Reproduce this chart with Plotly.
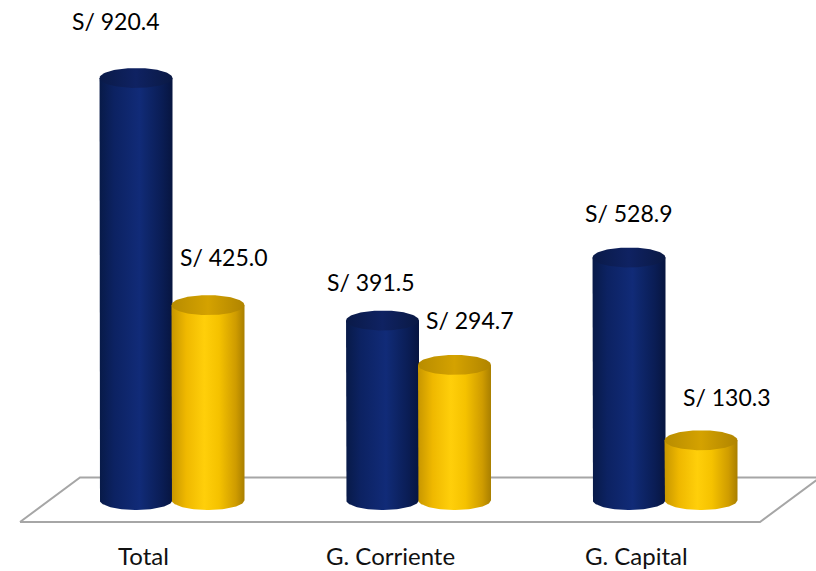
import numpy as np
import plotly.graph_objects as go

# ---- data ----
categories = ["Total", "G. Corriente", "G. Capital"]
series_a = [920.4, 391.5, 528.9]   # blue
series_b = [425.0, 294.7, 130.3]   # yellow
value_labels_a = ["S/ 920.4", "S/ 391.5", "S/ 528.9"]
value_labels_b = ["S/ 425.0", "S/ 294.7", "S/ 130.3"]

# ---- geometry / style ----
W, H = 816, 571
XPX = 246.5           # px per category unit
YPX = 0.4585          # px per value unit
X0PX, Y0PX = 172, 500 # pixel of (0,0)
xr = [(0 - X0PX) / XPX, (W - X0PX) / XPX]
yr = [(Y0PX - H) / YPX, (Y0PX - 0) / YPX]

RX = 0.148            # cylinder half width (x units)
RY = 10 / YPX         # ellipse half height (value units)
OFF = 0.146           # offset of each series from category center

blue_body = [[0, "#081a48"], [0.2, "#0c2262"], [0.55, "#112b78"], [0.62, "#0f286f"], [0.85, "#0a1d55"], [1, "#071540"]]
blue_cap = [[0, "#0a1a48"], [0.5, "#0f2262"], [1, "#0a1944"]]
yel_body = [[0, "#c79600"], [0.2, "#efb800"], [0.45, "#ffcf0a"], [0.65, "#f5c200"], [0.88, "#cf9c00"], [1, "#a97f00"]]
yel_cap = [[0, "#b88c00"], [0.5, "#d4a200"], [1, "#b08400"]]

# label offsets (px) relative to top of cylinder
lab_off_a = [(-20, 57), (-12, 39), (0, 45)]
lab_off_b = [(16, 48), (16, 45), (26, 43)]

fig = go.Figure()

def px2x(p):
    return (p - X0PX) / XPX
def py2y(p):
    return (Y0PX - p) / YPX

# floor parallelogram
floor_x = [px2x(20), px2x(760), px2x(820), px2x(80), px2x(20)]
floor_y = [py2y(522), py2y(522), py2y(477.5), py2y(477.5), py2y(522)]
fig.add_trace(go.Scatter(x=floor_x, y=floor_y, mode="lines",
                         line=dict(color="#a6a6a6", width=2),
                         fill="toself", fillcolor="white", hoverinfo="skip"))

t_low = np.linspace(np.pi, 2 * np.pi, 60)
t_full = np.linspace(0, 2 * np.pi, 120)

def cylinder(cx, v, body_cs, cap_cs):
    bx = [cx - RX, cx - RX] + list(cx + RX * np.cos(t_low)) + [cx + RX, cx - RX]
    by = [v, 0] + list(RY * np.sin(t_low)) + [v, v]
    fig.add_trace(go.Scatter(x=bx, y=by, mode="lines", line=dict(width=0),
                             fill="toself",
                             fillgradient=dict(type="horizontal", colorscale=body_cs),
                             hoverinfo="skip"))
    cxs = cx + RX * np.cos(t_full)
    cys = v + RY * np.sin(t_full)
    fig.add_trace(go.Scatter(x=cxs, y=cys, mode="lines", line=dict(width=0),
                             fill="toself",
                             fillgradient=dict(type="horizontal", colorscale=cap_cs),
                             hoverinfo="skip"))

for i in range(len(categories)):
    cylinder(i - OFF, series_a[i], blue_body, blue_cap)
    cylinder(i + OFF, series_b[i], yel_body, yel_cap)

font = "Lato, 'Open Sans', sans-serif"
for i in range(len(categories)):
    for cx, v, txt, (dx, dy) in [(i - OFF, series_a[i], value_labels_a[i], lab_off_a[i]),
                                 (i + OFF, series_b[i], value_labels_b[i], lab_off_b[i])]:
        fig.add_annotation(x=cx, y=v, text=txt, showarrow=False,
                           xshift=dx, yshift=dy,
                           font=dict(family=font, size=23, color="#000000"))
    fig.add_annotation(x=i - 0.115, y=py2y(555), text=categories[i], showarrow=False,
                       font=dict(family=font, size=24, color="#111111"))

fig.update_xaxes(range=xr, visible=False, showgrid=False, zeroline=False, fixedrange=True)
fig.update_yaxes(range=yr, visible=False, showgrid=False, zeroline=False, fixedrange=True)
fig.update_layout(width=W, height=H, margin=dict(l=0, r=0, t=0, b=0),
                  showlegend=False, plot_bgcolor="white", paper_bgcolor="white")

fig.write_html("out.html", config={"displayModeBar": False},
               post_script="document.body.style.margin='0px';document.body.style.overflow='hidden';")
